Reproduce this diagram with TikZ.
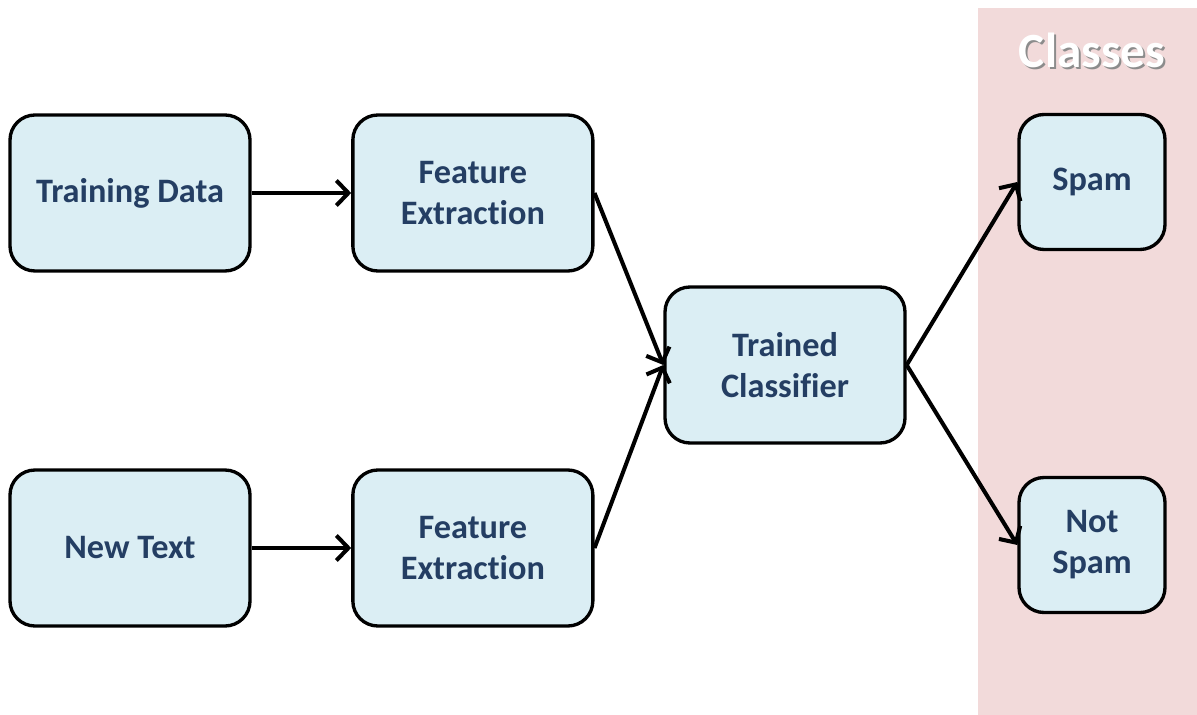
\documentclass[tikz,border=0pt]{standalone}
\usepackage{fontspec}
\setmainfont[Ligatures=NoCommon]{Carlito}
\usetikzlibrary{positioning}
\usetikzlibrary{arrows.meta}
\definecolor{boxfill}{RGB}{219,238,244}
\definecolor{boxtext}{RGB}{36,62,99}
\definecolor{classbg}{RGB}{242,218,218}

\begin{document}
\begin{tikzpicture}[%
    node distance=1.99cm,
    >={Straight Barb[length=2.4mm,width=5mm]},
stagenode/.style={rectangle, rounded corners=0.5cm, align=center, draw=black, fill=boxfill, line width=1.9pt, minimum width=4.8cm, minimum height=3.12cm, text=boxtext, font=\fontsize{19.5}{23.4}\selectfont\bfseries},
classnode/.style={stagenode, minimum width=2.92cm, minimum height=2.7cm},
title/.style={align=center, font=\fontsize{28}{32}\selectfont\bfseries},
link/.style={->, line width=2.3pt},
]
\useasboundingbox (0,0) rectangle (23.94,-14.3);

% Classes panel
\fill[classbg] (19.56,-0.16) rectangle (23.94,-14.3);
\node[title, text=black!45] (classesshadow) at (21.88,-1.04) {Classes};
\node[title, text=white]    (classes)       at (21.84,-1.0)  {Classes};

% Training branch
\node[stagenode]      (training)                     at (2.6,-3.86) {Training Data};
\node[stagenode]      (featuretop) [right=of training] {Feature\\Extraction};

% New text branch
\node[stagenode]      (newtext)                      at (2.6,-10.96) {New Text};
\node[stagenode]      (featurebottom) [right=of newtext] {Feature\\Extraction};

% Classifier
\node[stagenode]      (classifier)                   at (15.7,-7.3) {Trained\\Classifier};

% Classes
\node[classnode]      (spam)                         at (21.84,-3.64) {Spam};
\node[classnode]      (notspam)                      at (21.84,-10.9) {Not\\Spam};

% Lines
\draw[link] (training.east) -- (featuretop.west);
\draw[link] (newtext.east) -- (featurebottom.west);
\draw[link] (featuretop.east) -- (classifier.west);
\draw[link] (featurebottom.east) -- (classifier.west);
\draw[link] (classifier.east) -- (spam.west);
\draw[link] (classifier.east) -- (notspam.west);

\end{tikzpicture}
\end{document}
